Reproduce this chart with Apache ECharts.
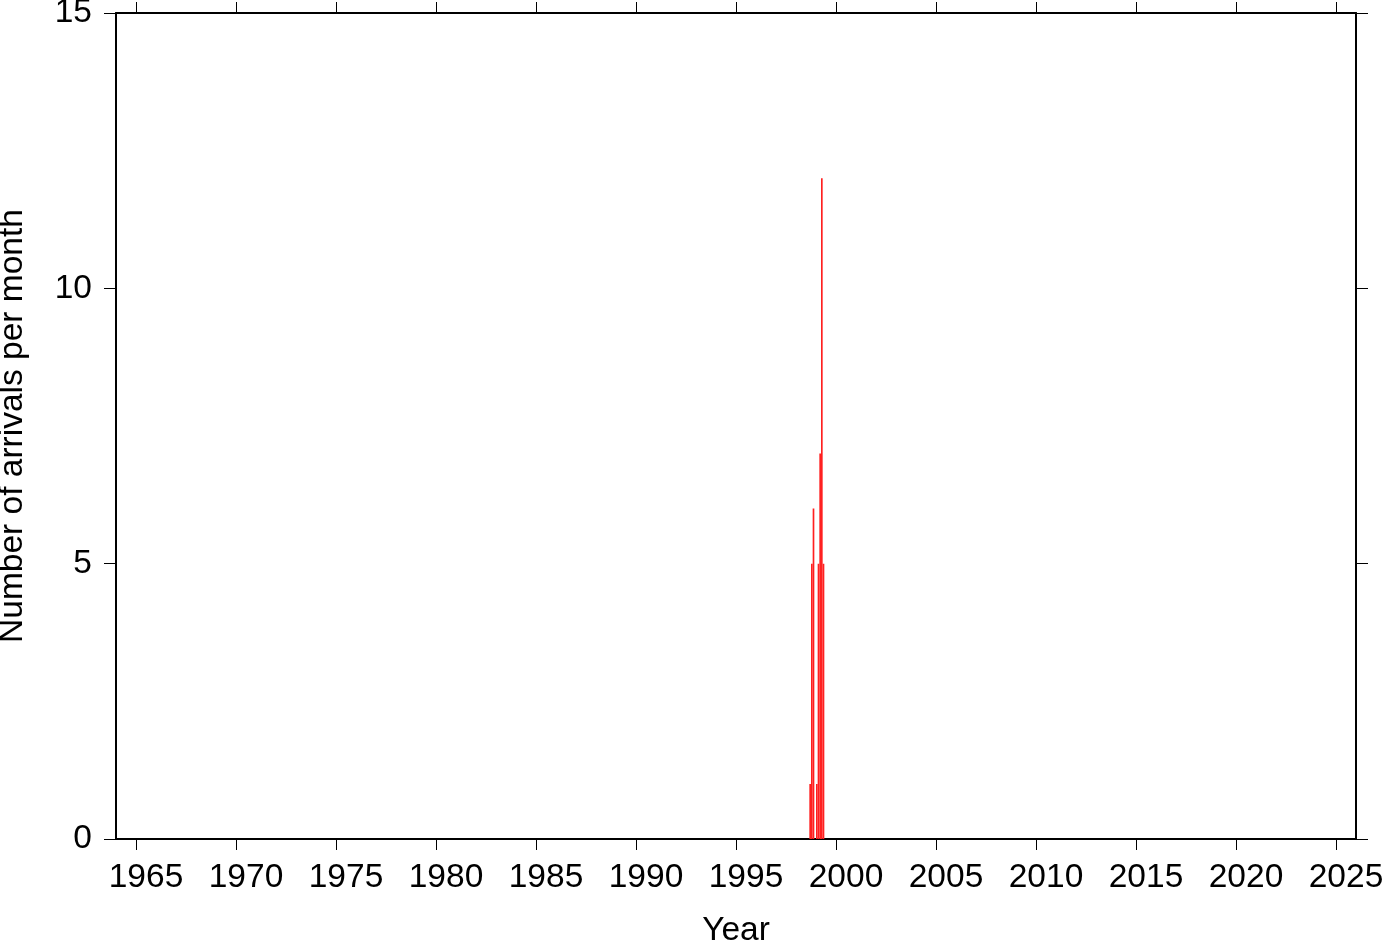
<!DOCTYPE html>
<html>
<head>
<meta charset="utf-8">
<style>html,body{margin:0;padding:0;background:#fff}#chart{width:1382px;height:942px}</style>
<script src="https://cdn.jsdelivr.net/npm/echarts@6/dist/echarts.min.js"></script>
</head>
<body>
<div id="chart"></div>
<script>
// Data
const months = ['1998-09','1998-10','1998-11','1998-12','1999-01','1999-02','1999-03','1999-04','1999-05'];
const counts = [1, 5, 6, 0, 1, 5, 7, 12, 5];
const xTickYears = [1965,1970,1975,1980,1985,1990,1995,2000,2005,2010,2015,2020,2025];
const yTicks = [0, 5, 10, 15];
const xMin = 1964, xMax = 2026;

const barData = months.map((m, i) => {
  const [y, mo] = m.split('-').map(Number);
  const start = y + (mo - 1) / 12;
  return [start, start + 1 / 12, counts[i]];
});

const font = 'Liberation Sans, Helvetica, Arial, sans-serif';
const fs = 33.5;
const baseAxisLine = { show: true, onZero: false, lineStyle: { color: '#000', width: 2 } };
const tickStyle = { show: true, inside: false, length: 11, lineStyle: { color: '#000', width: 1 } };
const plain = v => String(v);

const chart = echarts.init(document.getElementById('chart'), null, { renderer: 'canvas' });
chart.setOption({
  animation: false,
  backgroundColor: '#fff',
  grid: { left: 116, right: 26, top: 13, bottom: 103, show: false, containLabel: false, outerBoundsMode: 'none' },
  xAxis: [{
    type: 'value', min: xMin, max: xMax, position: 'bottom',
    name: 'Year', nameLocation: 'middle', nameGap: 75,
    nameTextStyle: { fontFamily: font, fontSize: fs, color: '#000' },
    axisLine: baseAxisLine,
    axisTick: Object.assign({}, tickStyle, { customValues: xTickYears }),
    axisLabel: { customValues: xTickYears, formatter: plain, margin: 22, padding: [0, 0, 0, 20], fontFamily: font, fontSize: fs, color: '#000' },
    splitLine: { show: false }
  }, {
    type: 'value', min: xMin, max: xMax, position: 'top',
    axisLine: baseAxisLine,
    axisTick: Object.assign({}, tickStyle, { customValues: xTickYears }),
    axisLabel: { show: false },
    splitLine: { show: false }
  }],
  yAxis: [{
    type: 'value', min: 0, max: 15, interval: 5, position: 'left',
    name: 'Number of arrivals per month', nameLocation: 'middle', nameGap: 86,
    nameTextStyle: { fontFamily: font, fontSize: fs, color: '#000' },
    axisLine: baseAxisLine,
    axisTick: Object.assign({}, tickStyle, { customValues: yTicks, length: 12 }),
    axisLabel: { customValues: yTicks, formatter: plain, margin: 24, padding: [4, 0, 0, 0], fontFamily: font, fontSize: fs, color: '#000' },
    splitLine: { show: false }
  }, {
    type: 'value', min: 0, max: 15, interval: 5, position: 'right',
    axisLine: baseAxisLine,
    axisTick: Object.assign({}, tickStyle, { customValues: yTicks, length: 12 }),
    axisLabel: { show: false },
    splitLine: { show: false }
  }],
  series: [{
    type: 'custom',
    xAxisIndex: 0, yAxisIndex: 0,
    encode: { x: [0, 1], y: 2 },
    data: barData,
    clip: true,
    renderItem: function (params, api) {
      const s = api.coord([api.value(0), 0]);
      const e = api.coord([api.value(1), api.value(2)]);
      return {
        type: 'rect',
        shape: { x: s[0], y: e[1], width: e[0] - s[0], height: s[1] - e[1] },
        style: { fill: '#ff2020' }
      };
    }
  }]
});
</script>
</body>
</html>
